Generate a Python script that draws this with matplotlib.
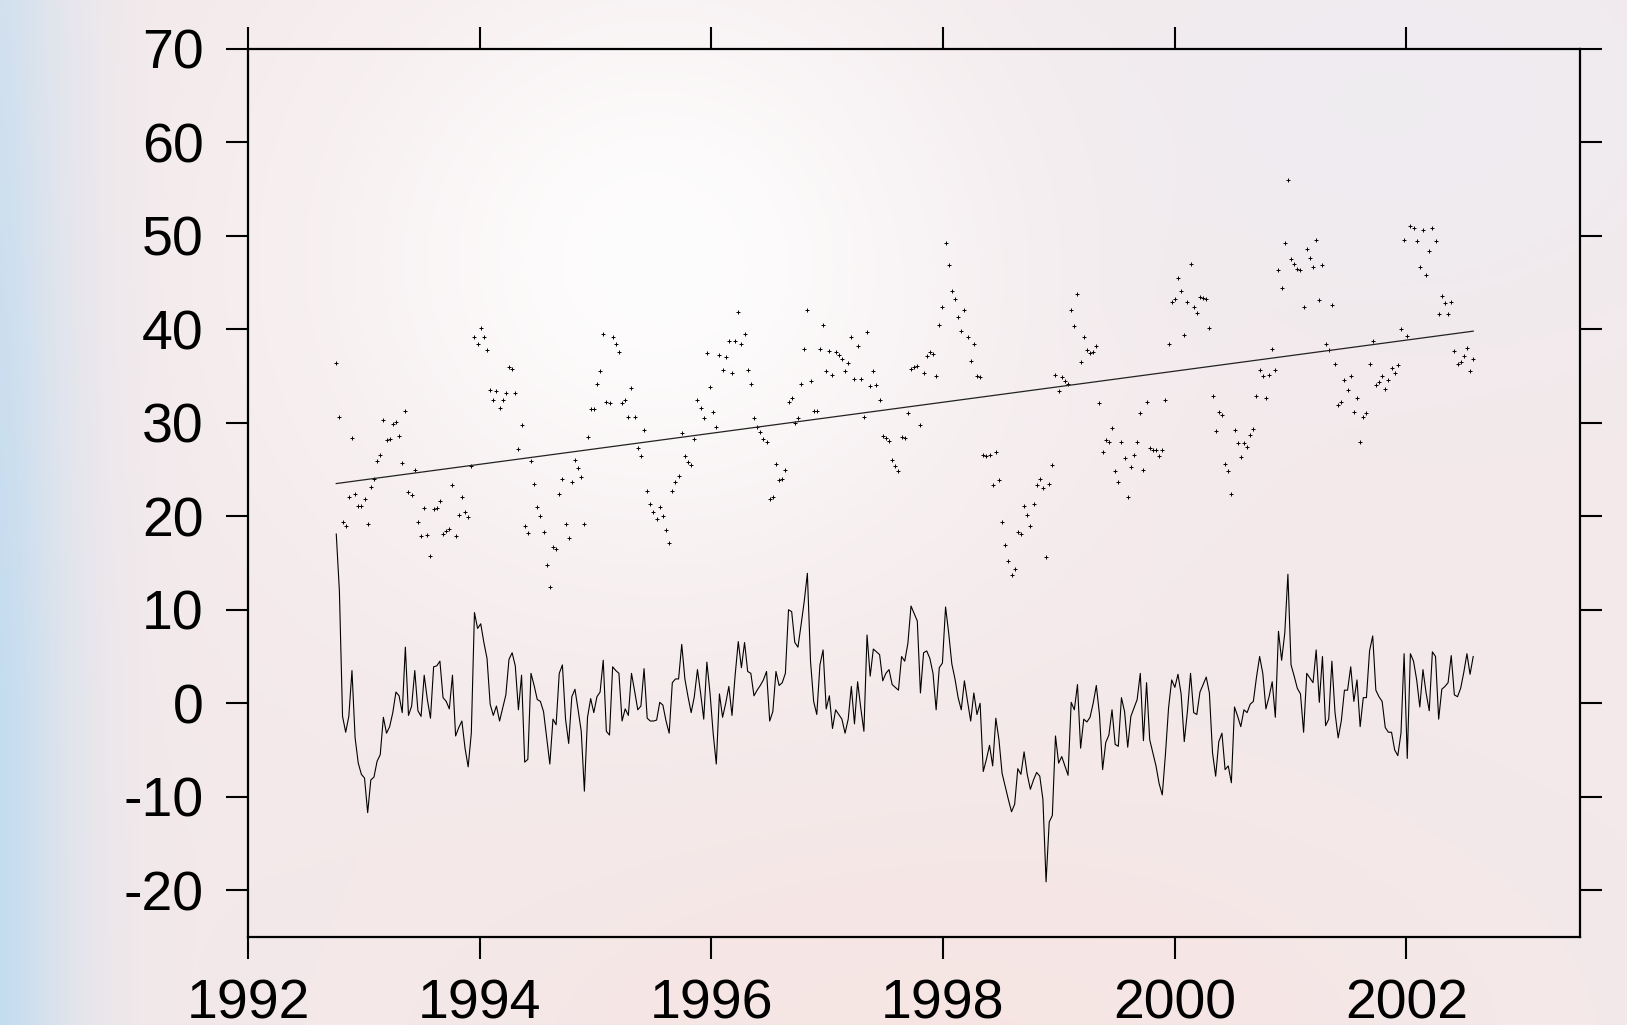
import numpy as np
import matplotlib
matplotlib.use("Agg")
import matplotlib.pyplot as plt

plt.rcParams['font.family'] = ['Liberation Sans', 'DejaVu Sans']
plt.rcParams['axes.unicode_minus'] = False

# time span of the samples (decimal years), one sample roughly every 10 days
t_start = 1992.762
t_end = 2002.578

# raw observations (dots)
raw = [
    36.4, 30.6, 19.4, 19.0, 22.1, 28.4, 22.4, 21.1, 21.1, 21.9,
    19.2, 23.1, 24.0, 25.9, 26.6, 30.3, 28.2, 28.3, 29.9, 30.1,
    28.6, 25.7, 31.3, 22.6, 22.3, 25.0, 19.4, 17.9, 20.9, 18.0,
    15.8, 20.8, 20.9, 21.6, 18.1, 18.4, 18.6, 23.3, 17.9, 20.1,
    22.1, 20.5, 19.9, 25.4, 39.2, 38.4, 40.1, 39.2, 37.8, 33.5,
    32.4, 33.4, 31.6, 32.4, 33.2, 36.0, 35.8, 33.2, 27.2, 29.8,
    19.0, 18.2, 25.9, 23.5, 21.0, 20.0, 18.3, 14.8, 12.4, 16.7,
    16.5, 22.4, 24.0, 19.2, 17.7, 23.7, 26.0, 25.2, 24.2, 19.2,
    28.5, 31.5, 31.5, 34.2, 35.5, 39.5, 32.2, 32.1, 39.2, 38.4,
    37.6, 32.1, 32.4, 30.6, 33.7, 30.6, 27.3, 26.4, 29.2, 22.7,
    21.3, 20.5, 19.7, 21.0, 20.0, 18.5, 17.1, 22.7, 23.7, 24.3,
    28.9, 26.4, 25.8, 25.5, 28.3, 32.4, 31.6, 30.5, 37.5, 33.8,
    31.2, 29.5, 37.2, 35.6, 37.0, 38.7, 35.3, 38.8, 41.8, 38.4,
    39.5, 35.6, 34.1, 30.5, 29.6, 29.0, 28.3, 27.9, 21.9, 22.1,
    25.6, 23.9, 24.0, 25.0, 32.2, 32.6, 30.0, 30.5, 34.2, 37.9,
    42.1, 34.5, 31.3, 31.3, 37.9, 40.5, 35.5, 37.7, 35.1, 37.6,
    37.2, 36.8, 35.5, 36.4, 39.2, 34.7, 38.2, 34.7, 30.6, 39.7,
    33.9, 35.5, 34.0, 32.4, 28.6, 28.4, 28.0, 26.0, 25.4, 24.8,
    28.5, 28.4, 31.0, 35.8, 36.0, 36.1, 29.8, 35.3, 37.1, 37.6,
    37.4, 35.0, 40.5, 42.4, 49.2, 46.9, 44.1, 43.2, 41.3, 39.8,
    42.1, 39.2, 36.6, 38.4, 35.0, 34.9, 26.6, 26.5, 26.6, 23.3,
    26.9, 23.9, 19.4, 16.9, 15.2, 13.7, 14.4, 18.3, 18.1, 21.1,
    20.1, 19.0, 21.3, 23.3, 24.0, 23.0, 15.6, 23.4, 25.5, 35.1,
    33.4, 34.9, 34.5, 34.1, 42.1, 40.3, 43.8, 36.5, 39.2, 37.8,
    37.5, 37.6, 38.2, 32.1, 26.9, 28.2, 27.9, 29.4, 24.8, 23.7,
    27.9, 26.2, 22.1, 25.3, 26.6, 27.9, 31.0, 25.0, 32.2, 27.3,
    27.1, 27.1, 26.5, 27.1, 32.4, 38.4, 42.9, 43.2, 45.5, 44.1,
    39.4, 42.9, 47.0, 42.4, 41.7, 43.4, 43.3, 43.2, 40.1, 32.9,
    29.1, 31.2, 30.8, 25.6, 24.8, 22.4, 29.2, 27.8, 26.3, 27.8,
    27.4, 28.7, 29.3, 32.9, 35.6, 35.0, 32.6, 35.1, 37.9, 35.6,
    46.3, 44.4, 49.2, 56.0, 47.5, 47.0, 46.5, 46.3, 42.4, 48.6,
    47.6, 46.7, 49.5, 43.1, 46.9, 38.4, 37.8, 42.6, 36.3, 31.9,
    32.2, 34.6, 33.5, 35.0, 31.1, 32.6, 27.9, 30.6, 31.0, 36.3,
    38.7, 34.0, 34.4, 35.0, 33.6, 34.6, 35.9, 35.3, 36.2, 40.0,
    49.5, 39.3, 51.1, 50.8, 49.4, 46.7, 50.6, 45.8, 48.4, 50.8,
    49.4, 41.6, 43.6, 42.8, 41.6, 42.9, 37.7, 36.3, 36.5, 37.1,
    38.0, 35.5, 36.8,
]

# anomaly series (solid line)
anomaly = [
    18.1, 12.0, -1.4, -3.1, -1.4, 3.5, -3.7, -6.4, -7.6, -8.0,
    -11.7, -8.2, -7.9, -6.2, -5.5, -1.5, -3.2, -2.5, -1.0, 1.2,
    0.8, -1.0, 6.0, -1.3, -0.3, 3.5, -0.8, -1.4, 3.0, 0.4,
    -1.6, 3.9, 4.0, 4.5, 0.6, 0.2, -0.6, 3.0, -3.5, -2.6,
    -1.9, -4.8, -6.8, -3.2, 9.7, 8.0, 8.5, 6.5, 4.8, -0.1,
    -1.3, -0.3, -1.9, -0.5, 0.9, 4.7, 5.4, 4.0, -0.7, 3.0,
    -6.3, -6.0, 3.2, 1.9, 0.4, 0.2, -0.9, -3.7, -6.5, -1.7,
    -2.3, 3.2, 4.1, -1.7, -4.3, 0.7, 1.5, -0.7, -3.0, -9.4,
    -1.5, 0.5, -1.0, 0.7, 1.2, 4.6, -3.0, -3.4, 3.9, 3.5,
    3.2, -1.9, -0.6, -1.3, 3.2, 1.3, -0.7, -0.3, 3.7, -1.6,
    -1.9, -1.9, -1.8, 0.1, -0.2, -1.9, -3.2, 2.2, 2.6, 2.6,
    6.3, 2.6, 0.7, -1.0, 0.7, 3.6, 1.1, -1.7, 4.4, 1.1,
    -3.2, -6.5, 1.0, -1.5, 0.0, 1.8, -1.3, 3.0, 6.6, 3.8,
    6.5, 3.4, 3.2, 0.8, 1.4, 1.9, 2.5, 3.4, -1.9, -0.9,
    3.4, 1.9, 2.2, 3.2, 10.0, 9.8, 6.5, 6.0, 8.4, 10.9,
    13.9, 4.5, 0.2, -1.2, 4.1, 5.7, -0.6, 0.8, -2.7, -0.7,
    -1.2, -1.7, -3.2, -1.7, 1.8, -2.2, 2.3, -0.5, -3.0, 7.3,
    2.9, 5.8, 5.5, 5.2, 2.4, 3.2, 3.6, 2.0, 1.7, 1.4,
    5.0, 4.5, 6.4, 10.4, 9.6, 8.8, 1.1, 5.4, 5.6, 4.8,
    3.2, -0.7, 3.8, 4.3, 10.3, 7.5, 4.2, 2.6, 0.6, -0.7,
    2.4, 0.2, -1.9, 1.1, -1.2, 0.0, -7.3, -6.0, -4.5, -6.7,
    -1.6, -3.9, -7.5, -8.9, -10.3, -11.6, -10.8, -7.0, -7.6, -5.2,
    -7.6, -9.2, -8.2, -7.4, -7.8, -10.3, -19.1, -12.7, -12.0, -3.5,
    -6.4, -5.7, -6.7, -7.7, 0.1, -0.7, 2.0, -4.8, -1.7, -2.0,
    -1.5, 0.0, 1.9, -1.2, -7.1, -4.2, -3.4, -0.7, -4.4, -4.6,
    0.6, -0.9, -4.7, -1.4, -0.5, 0.4, 3.2, -4.0, 2.2, -3.9,
    -5.3, -6.7, -8.6, -9.8, -5.5, -0.5, 2.5, 1.7, 3.1,
    1.0, -4.1, -0.9, 3.2, -1.0, -1.2, 1.2, 2.0, 2.8, 1.1,
    -5.3, -7.8, -4.1, -3.2, -7.1, -6.7, -8.5, -0.4, -1.4, -2.5,
    -0.7, -1.0, -0.1, 0.2, 2.8, 5.0, 3.2, -0.6, 0.7, 2.3,
    -1.5, 7.7, 4.6, 7.5, 13.8, 4.1, 2.9, 1.6, 1.0, -3.1,
    3.2, 2.7, 2.2, 5.7, 0.1, 5.0, -2.4, -1.7, 4.5, -1.0,
    -3.7, -1.9, 1.4, 1.4, 3.9, 0.2, 2.5, -2.5, 0.6, 0.6,
    5.6, 7.2, 1.4, 0.7, 0.2, -2.6, -3.1, -3.1, -5.0, -5.6,
    -3.2, 5.3, -5.9, 5.3, 4.5, 2.5, -0.4, 3.6, 1.1, -0.8,
    5.5, 5.0, -1.7, 1.5, 1.8, 2.2, 5.1, 0.9, 0.7, 1.6,
    3.3, 5.3, 3.1, 5.0,
]

# linear trend of the raw series (values at first and last sample)
trend_ends = [23.5, 39.8]

x_ticks = [1992, 1994, 1996, 1998, 2000, 2002]
y_ticks = [-20, -10, 0, 10, 20, 30, 40, 50, 60, 70]

t_raw = np.linspace(t_start, t_end, len(raw))
t_anom = np.linspace(t_start, t_end, len(anomaly))

W, H = 1627, 1025
fig = plt.figure(figsize=(W / 100, H / 100), dpi=100)

# soft blurred background
yy, xx = np.mgrid[0:H, 0:W]
bg = np.ones((H, W, 3))
bg[..., 0] = 0.955
bg[..., 1] = 0.915
bg[..., 2] = 0.920


def blob(cx, cy, sx, sy):
    return np.exp(-(((xx - cx) / sx) ** 2 + ((yy - cy) / sy) ** 2))


white = blob(660, 260, 340, 320)
blue = np.exp(-(xx / 75.0) ** 1.5) * (0.7 + 0.3 * np.clip(yy / 700.0, 0, 1))
lav = blob(1400, 100, 350, 250)
peach = blob(950, 1050, 500, 250)
for c in range(3):
    bg[..., c] = bg[..., c] * (1 - 0.9 * white) + 0.9 * white
for c, col in enumerate([0.93, 0.93, 0.955]):
    bg[..., c] = bg[..., c] * (1 - 0.7 * lav) + col * 0.7 * lav
for c, col in enumerate([0.975, 0.88, 0.86]):
    bg[..., c] = bg[..., c] * (1 - 0.5 * peach) + col * 0.5 * peach
for c, col in enumerate([0.77, 0.865, 0.94]):
    bg[..., c] = bg[..., c] * (1 - blue) + col * blue
bga = fig.add_axes([0, 0, 1, 1], zorder=-10)
bga.imshow(bg, aspect='auto', interpolation='bilinear')
bga.axis('off')

ax = fig.add_axes([248 / W, 1 - 937 / H, (1580 - 248) / W, (937 - 48.8) / H])
ax.patch.set_alpha(0)

ax.plot(t_raw, raw, '+', color='black', markersize=3, markeredgewidth=0.7)
ax.plot([t_start, t_end], trend_ends, color='#222222', linewidth=0.9)
ax.plot(t_anom, anomaly, color='black', linewidth=0.8)

ax.set_xlim(1992, 2003.5)
ax.set_ylim(-25, 70)
ax.set_xticks(x_ticks)
ax.set_yticks(y_ticks)
ax.tick_params(axis='both', which='both', direction='out', length=16, width=1.5,
               labelsize=40, top=True, right=True, color='black')
ax.tick_params(axis='y', pad=16)
ax.tick_params(axis='x', pad=14)
for s in ax.spines.values():
    s.set_linewidth(1.6)
    s.set_color('black')

fig.savefig('out.png', dpi=100)
